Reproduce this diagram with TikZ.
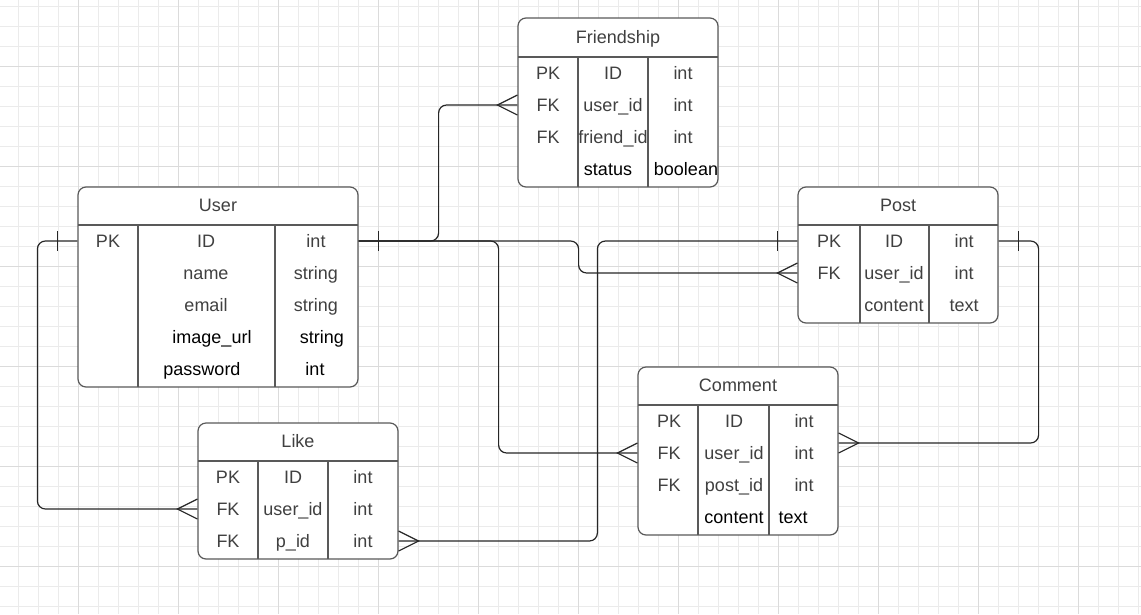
\documentclass[tikz,border=0pt]{standalone}
\usepackage{fontspec}
\setmainfont{Liberation Sans}
\usetikzlibrary{positioning}

\begin{document}
\begin{tikzpicture}[x=1pt,y=-1pt]
    \tikzstyle{gridfine}=[draw=black!8,line width=1pt]
    \tikzstyle{gridbold}=[draw=black!14,line width=1pt]
    \tikzstyle{entity}=[draw=black!65,line width=1.2pt,rounded corners=8pt,fill=white,inner sep=0pt]
    \tikzstyle{divider}=[draw=black!65,line width=1.2pt]
    \tikzstyle{field}=[text=black!75,font=\fontsize{18}{21}\selectfont,inner sep=0pt,text height=13pt,text depth=0pt]
    \tikzstyle{fieldb}=[field,text=black]
    \tikzstyle{relation}=[draw=black!85,line width=1.2pt,rounded corners=8pt]
    \tikzstyle{endstroke}=[draw=black!85,line width=1.2pt]
    \tikzset{one/.pic={\draw[endstroke] (0,-10) -- (0,10);},
             many/.pic={\draw[endstroke] (20,-10) -- (0,0) -- (20,10);}}

    \useasboundingbox (0,0) rectangle (1141,614);

%   background grid
    \foreach \x in {18,38,...,1138} \draw[gridfine] (\x,0) -- (\x,614);
    \foreach \y in {6,26,...,606} \draw[gridfine] (0,\y) -- (1141,\y);
    \foreach \x in {78,178,...,1078} \draw[gridbold] (\x,0) -- (\x,614);
    \foreach \y in {66,166,...,566} \draw[gridbold] (0,\y) -- (1141,\y);

%   Friendship
	\node[entity,minimum width=200pt,minimum height=169pt] (F) at (618,102.5) {};
	\draw[divider] (518,57) -- (718,57) (578,57) -- (578,187) (648,57) -- (648,187);
	\node[field] (F-h) at (618,37) {Friendship};
	\foreach \k/\n/\t [count=\i] in {PK/ID/int, FK/user\_id/int, FK/friend\_id/int}{
		\node[field] (F-k\i) at (548,{41+32*\i}) {\k};
		\node[field] (F-n\i) at (613,{41+32*\i}) {\n};
		\node[field] (F-t\i) at (683,{41+32*\i}) {\t};
	}
	\node[fieldb] (F-n4) at (608,169) {status};
	\node[fieldb] (F-t4) at (686,169) {boolean};

%   User
	\node[entity,minimum width=280pt,minimum height=200pt] (U) at (218,287) {};
	\draw[divider] (78,225) -- (358,225) (138,225) -- (138,387) (275,225) -- (275,387);
	\node[field] (U-h) at (218,205) {User};
	\foreach \k/\n/\t [count=\i] in {PK/ID/int, /name/string, /email/string}{
		\node[field] (U-k\i) at (108,{209+32*\i}) {\k};
		\node[field] (U-n\i) at (206,{209+32*\i}) {\n};
		\node[field] (U-t\i) at (316,{209+32*\i}) {\t};
	}
	\node[fieldb] (U-n4) at (212,337) {image\_url};
	\node[fieldb] (U-t4) at (322,337) {string};
	\node[fieldb] (U-n5) at (202,369) {password};
	\node[fieldb] (U-t5) at (315,369) {int};

%   Post
	\node[entity,minimum width=200pt,minimum height=136pt] (P) at (898,255) {};
	\draw[divider] (798,225) -- (998,225) (860,225) -- (860,323) (929,225) -- (929,323);
	\node[field] (P-h) at (898,205) {Post};
	\foreach \k/\n/\t [count=\i] in {PK/ID/int, FK/user\_id/int, /content/text}{
		\node[field] (P-k\i) at (829,{209+32*\i}) {\k};
		\node[field] (P-n\i) at (894,{209+32*\i}) {\n};
		\node[field] (P-t\i) at (964,{209+32*\i}) {\t};
	}

%   Comment
	\node[entity,minimum width=200pt,minimum height=168pt] (C) at (738,451) {};
	\draw[divider] (638,405) -- (838,405) (698,405) -- (698,535) (769,405) -- (769,535);
	\node[field] (C-h) at (738,385) {Comment};
	\foreach \k/\n/\t [count=\i] in {PK/ID/int, FK/user\_id/int, FK/post\_id/int}{
		\node[field] (C-k\i) at (669,{389+32*\i}) {\k};
		\node[field] (C-n\i) at (734,{389+32*\i}) {\n};
		\node[field] (C-t\i) at (804,{389+32*\i}) {\t};
	}
	\node[fieldb] (C-n4) at (734,517) {content};
	\node[fieldb] (C-t4) at (793,517) {text};

%   Like
	\node[entity,minimum width=200pt,minimum height=136pt] (L) at (298,491) {};
	\draw[divider] (198,461) -- (398,461) (258,461) -- (258,559) (328,461) -- (328,559);
	\node[field] (L-h) at (298,441) {Like};
	\foreach \k/\n/\t [count=\i] in {PK/ID/int, FK/user\_id/int, FK/p\_id/int}{
		\node[field] (L-k\i) at (228,{445+32*\i}) {\k};
		\node[field] (L-n\i) at (293,{445+32*\i}) {\n};
		\node[field] (L-t\i) at (363,{445+32*\i}) {\t};
	}

%   relations
	\draw[relation] (U.east |- U-n1) -- ++(80,0) |- (F.west |- F-n2);
	\draw[relation] (U.east |- U-n1) -- ++(140,0) |- (C.west |- C-n2);
	\draw[relation] (U.east |- U-n1) -- ++(220,0) |- (P.west |- P-n2);
	\draw[relation] (P.west |- P-n1) -- ++(-200,0) |- (L.east |- L-n3);
	\draw[relation] (P.east |- P-n1) -- ++(40,0) |- ([yshift=8pt]C.east);
	\draw[relation] (U.west |- U-n1) -- ++(-40,0) |- (L.west |- L-n2);

	\path (U.east |- U-n1) ++(20,0) pic {one};
	\path (U.west |- U-n1) ++(-20,0) pic {one};
	\path (P.west |- P-n1) ++(-20,0) pic {one};
	\path (P.east |- P-n1) ++(20,0) pic {one};
	\path (F.west |- F-n2) ++(-20,0) pic {many};
	\path (C.west |- C-n2) ++(-20,0) pic {many};
	\path (P.west |- P-n2) ++(-20,0) pic {many};
	\path (L.west |- L-n2) ++(-20,0) pic {many};
	\path (L.east |- L-n3) ++(20,0) pic[rotate=180] {many};
	\path ([yshift=8pt]C.east) ++(20,0) pic[rotate=180] {many};

\end{tikzpicture}
\end{document}
